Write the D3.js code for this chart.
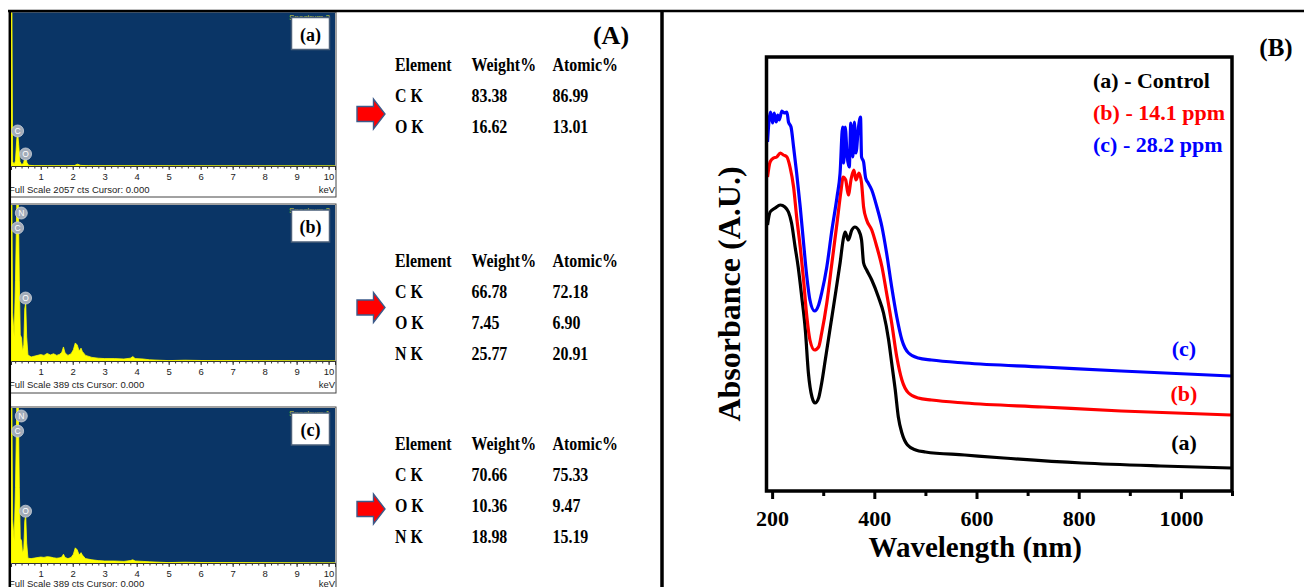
<!DOCTYPE html>
<html>
<head>
<meta charset="utf-8">
<script src="https://cdn.jsdelivr.net/npm/d3@7"></script>
<style>
  body { margin: 0; background: #fff; }
  svg { display: block; }
</style>
</head>
<body>
<div id="wrapper"></div>
<script>
// ---------- data ----------
// EDS spectra: [keV, counts]
const spectrumA = [
  [0.07, 2057], [0.10, 2057], [0.12, 60], [0.17, 20], [0.21, 70], [0.25, 360], [0.28, 440],
  [0.31, 290], [0.35, 60], [0.40, 20], [0.46, 35], [0.50, 105], [0.53, 120], [0.57, 45],
  [0.62, 10], [0.80, 4], [1.20, 3], [1.80, 3], [2.05, 6], [2.15, 24], [2.25, 8], [2.50, 3],
  [4.00, 2], [10.2, 0]
]
const spectrumB = [
  [0.07, 389], [0.10, 389], [0.12, 120], [0.17, 60], [0.21, 200], [0.25, 389], [0.30, 389],
  [0.33, 200], [0.36, 65], [0.40, 58], [0.43, 25], [0.47, 40], [0.50, 130], [0.53, 145],
  [0.56, 60], [0.60, 15], [0.70, 10], [0.85, 13], [1.00, 16], [1.10, 14], [1.20, 19], [1.30, 15],
  [1.40, 18], [1.50, 14], [1.60, 17], [1.66, 22], [1.71, 35], [1.76, 20], [1.85, 14], [1.95, 18],
  [2.02, 28], [2.08, 45], [2.14, 40], [2.20, 25], [2.26, 32], [2.30, 24], [2.40, 14], [2.60, 9],
  [2.80, 7], [3.00, 6], [3.30, 6], [3.60, 5], [3.80, 7], [3.88, 11], [3.95, 6], [4.20, 5],
  [4.40, 3], [4.70, 2], [5.00, 1], [5.50, 2], [6.20, 1], [7.00, 1], [10.2, 0]
]
const spectrumC = [
  [0.07, 389], [0.10, 389], [0.12, 110], [0.17, 55], [0.21, 190], [0.25, 389], [0.30, 389],
  [0.33, 190], [0.36, 62], [0.40, 56], [0.43, 25], [0.47, 35], [0.50, 105], [0.53, 120],
  [0.56, 50], [0.60, 12], [0.70, 11], [0.85, 13], [1.00, 15], [1.10, 14], [1.20, 16], [1.30, 15],
  [1.40, 13], [1.50, 12], [1.60, 13], [1.66, 15], [1.71, 22], [1.76, 14], [1.85, 11], [1.95, 14],
  [2.02, 22], [2.08, 38], [2.14, 33], [2.20, 20], [2.26, 26], [2.30, 20], [2.40, 11], [2.60, 8],
  [2.80, 6], [3.00, 5], [3.30, 5], [3.60, 4], [3.80, 6], [3.88, 8], [3.95, 5], [4.20, 4],
  [4.40, 3], [4.70, 2], [5.00, 1], [5.50, 2], [6.20, 1], [7.00, 1], [10.2, 0]
]
const fullScales = [2057, 389, 389]
const spectrumNames = ["(a)", "(b)", "(c)"]
const spectrumIds = ["Spectrum 3", "Spectrum 2", "Spectrum 1"]
// peak markers: [element, keV, counts where the marker sits]
const peaksA = [["C", 0.277, 469], ["O", 0.525, 161]]
const peaksB = [["N", 0.392, 369], ["C", 0.277, 332], ["O", 0.525, 157]]
const peaksC = [["N", 0.392, 369], ["C", 0.277, 331], ["O", 0.525, 130]]
const keVTicks = [1, 2, 3, 4, 5, 6, 7, 8, 9, 10]

// EDS quantification tables
const tableHeader = ["Element", "Weight%", "Atomic%"]
const tableA = [["C K", "83.38", "86.99"], ["O K", "16.62", "13.01"]]
const tableB = [["C K", "66.78", "72.18"], ["O K", "7.45", "6.90"], ["N K", "25.77", "20.91"]]
const tableC = [["C K", "70.66", "75.33"], ["O K", "10.36", "9.47"], ["N K", "18.98", "15.19"]]

// UV-vis spectra: [wavelength nm, absorbance a.u.]
const controlData = [
  [191, 2.68], [196, 2.81], [206, 2.85], [216, 2.88], [225, 2.86], [232, 2.81], [238, 2.70],
  [245, 2.46], [251, 2.26], [258, 1.96], [265, 1.63], [271, 1.20], [278, 0.96], [284, 0.90],
  [291, 0.95], [297, 1.10], [304, 1.33], [313, 1.63], [323, 1.96], [333, 2.30], [340, 2.56],
  [343, 2.61], [349, 2.53], [356, 2.63], [362, 2.66], [369, 2.63], [375, 2.53], [379, 2.30],
  [385, 2.23], [395, 2.13], [408, 1.96], [418, 1.80], [428, 1.53], [434, 1.30], [441, 1.03],
  [447, 0.76], [454, 0.60], [465, 0.48], [481, 0.43], [500, 0.41], [577, 0.38], [653, 0.35],
  [806, 0.30], [960, 0.27], [1098, 0.25]
]
const ppm14Data = [
  [191, 3.16], [196, 3.31], [203, 3.35], [209, 3.36], [216, 3.40], [222, 3.38], [229, 3.36],
  [235, 3.26], [242, 3.06], [248, 2.76], [255, 2.46], [261, 2.16], [268, 1.76], [274, 1.53],
  [283, 1.43], [291, 1.46], [297, 1.60], [307, 1.90], [317, 2.30], [327, 2.70], [335, 3.03],
  [339, 3.16], [344, 3.13], [349, 2.98], [355, 3.15], [360, 3.23], [364, 3.13], [370, 3.20],
  [375, 3.10], [379, 2.86], [385, 2.73], [395, 2.63], [405, 2.46], [415, 2.26], [424, 2.00],
  [434, 1.70], [444, 1.36], [454, 1.13], [467, 1.00], [486, 0.95], [512, 0.93], [577, 0.90],
  [730, 0.86], [883, 0.82], [1098, 0.78]
]
const ppm28Data = [
  [191, 3.51], [194, 3.73], [197, 3.81], [201, 3.70], [204, 3.80], [208, 3.71], [211, 3.78],
  [214, 3.73], [219, 3.82], [224, 3.80], [229, 3.81], [232, 3.71], [237, 3.66], [242, 3.46],
  [248, 3.20], [255, 2.86], [261, 2.53], [268, 2.16], [274, 1.93], [283, 1.82], [291, 1.88],
  [297, 2.00], [307, 2.26], [317, 2.63], [327, 2.96], [333, 3.20], [338, 3.66], [340, 3.30],
  [343, 3.66], [347, 3.36], [351, 3.26], [354, 3.70], [358, 3.36], [361, 3.71], [364, 3.40],
  [369, 3.66], [373, 3.76], [375, 3.36], [379, 3.31], [383, 3.15], [388, 3.10], [395, 3.03],
  [405, 2.86], [415, 2.66], [424, 2.40], [434, 2.06], [444, 1.76], [454, 1.53], [467, 1.40],
  [486, 1.35], [512, 1.33], [577, 1.30], [730, 1.26], [883, 1.22], [1098, 1.17]
]
const uvSeries = [controlData, ppm14Data, ppm28Data]
const uvColors = ["#000000", "#ff0000", "#0000ff"]
const legendLabels = ["(a) - Control", "(b) - 14.1 ppm", "(c) - 28.2 ppm"]
const curveLabels = ["(a)", "(b)", "(c)"]
const uvMajorTicks = [200, 400, 600, 800, 1000]
const uvMinorTicks = [300, 500, 700, 900, 1100]

// ---------- page ----------
const serif = "'Liberation Serif', 'Times New Roman', serif"
const sans = "'Liberation Sans', Arial, sans-serif"

const svg = d3.select("#wrapper")
  .append("svg")
    .attr("width", 1304)
    .attr("height", 587)

// ---------- EDS panels ----------
const edsPanels = [
  { top: 12.5, bottom: 166, data: spectrumA, peaks: peaksA, frameTop: 12, frameBottom: 197 },
  { top: 205, bottom: 361, data: spectrumB, peaks: peaksB, frameTop: 204, frameBottom: 393 },
  { top: 408, bottom: 563, data: spectrumC, peaks: peaksC, frameTop: 407, frameBottom: 590 },
]
const edsX = d3.scaleLinear().domain([0.07, 10.2]).range([11, 335])

edsPanels.forEach((p, i) => {
  const g = svg.append("g")
  const edsY = d3.scaleLinear().domain([0, fullScales[i]]).range([p.bottom, p.top])

  g.append("rect")
    .attr("x", 10).attr("y", p.frameTop)
    .attr("width", 326).attr("height", p.frameBottom - p.frameTop)
    .attr("fill", "#fff").attr("stroke", "#444").attr("stroke-width", 1)

  g.append("rect")
    .attr("x", 11).attr("y", p.top)
    .attr("width", 324).attr("height", p.bottom - p.top)
    .attr("fill", "#0a3566")

  const clipId = "edsclip" + i
  g.append("clipPath").attr("id", clipId)
    .append("rect")
      .attr("x", 11).attr("y", p.top)
      .attr("width", 324).attr("height", p.bottom - p.top)

  const area = d3.area()
    .x(d => edsX(d[0]))
    .y0(p.bottom)
    .y1(d => edsY(Math.min(d[1], fullScales[i])))

  g.append("path")
    .attr("clip-path", `url(#${clipId})`)
    .attr("d", area(p.data))
    .attr("fill", "#ffff00")
    .attr("stroke", "#ffff00")
    .attr("stroke-width", 0.8)

  // minor + major ticks
  const minorAxis = d3.axisBottom(edsX)
    .tickValues(d3.range(0.2, 10.21, 0.2))
    .tickSize(2.5).tickFormat("")
  g.append("g")
    .attr("transform", `translate(0,${p.bottom})`)
    .call(minorAxis)
    .call(a => a.select(".domain").remove())
    .call(a => a.selectAll("line").attr("stroke", "#333"))

  const majorAxis = d3.axisBottom(edsX)
    .tickValues(keVTicks).tickSize(4).tickPadding(3.5)
  g.append("g")
    .attr("transform", `translate(0,${p.bottom})`)
    .call(majorAxis)
    .call(a => a.select(".domain").attr("stroke", "#333"))
    .call(a => a.selectAll("line").attr("stroke", "#333"))
    .call(a => a.selectAll("text")
      .attr("font-family", sans).attr("font-size", 9.5).attr("fill", "#222"))

  const fsY = Math.min(p.bottom + 27, 586.5)
  g.append("text")
    .attr("x", 9).attr("y", fsY)
    .attr("font-family", sans).attr("font-size", 9.5).attr("fill", "#222")
    .text(`Full Scale ${fullScales[i]} cts Cursor: 0.000`)
  g.append("text")
    .attr("x", 335).attr("y", fsY)
    .attr("text-anchor", "end")
    .attr("font-family", sans).attr("font-size", 9.5).attr("fill", "#222")
    .text("keV")

  // peak markers
  p.peaks.forEach(pk => {
    const cx = edsX(pk[1]), cy = edsY(pk[2])
    g.append("circle")
      .attr("cx", cx).attr("cy", cy).attr("r", 6)
      .attr("fill", "#a3acb9").attr("stroke", "#cdd3db").attr("stroke-width", 0.8)
    g.append("text")
      .attr("x", cx).attr("y", cy + 3)
      .attr("text-anchor", "middle")
      .attr("font-family", sans).attr("font-size", 8.5).attr("fill", "#fff")
      .text(pk[0])
  })

  // spectrum name + label box
  const boxY = p.top + 5
  g.append("text")
    .attr("x", 289).attr("y", boxY + 2.5)
    .attr("font-family", sans).attr("font-size", 8).attr("fill", "#c9cf3c")
    .text(spectrumIds[i])
  g.append("rect")
    .attr("x", 291.5).attr("y", boxY)
    .attr("width", 38).attr("height", 32)
    .attr("fill", "#fff").attr("stroke", "#4a5f7a").attr("stroke-width", 1.5)
  g.append("text")
    .attr("x", 310.5).attr("y", boxY + 23)
    .attr("text-anchor", "middle")
    .attr("font-family", serif).attr("font-weight", "bold").attr("font-size", 18)
    .text(spectrumNames[i])
})

// ---------- tables ----------
const tables = [
  { rows: tableA, headerY: 71, arrowY: 114 },
  { rows: tableB, headerY: 267, arrowY: 307.5 },
  { rows: tableC, headerY: 449.5, arrowY: 509 },
]
const colX = [395, 471.5, 552.5]

function condensedText(g, x, y, str) {
  g.append("text")
    .attr("transform", `translate(${x},${y}) scale(0.885,1)`)
    .attr("font-family", serif).attr("font-weight", "bold").attr("font-size", 18)
    .attr("fill", "#000")
    .text(str)
}

tables.forEach(t => {
  const g = svg.append("g")
  tableHeader.forEach((h, j) => condensedText(g, colX[j], t.headerY, h))
  t.rows.forEach((r, k) => {
    r.forEach((c, j) => condensedText(g, colX[j], t.headerY + 31 + 31 * k, c))
  })
  const ay = t.arrowY
  const arrow = d3.path()
  arrow.moveTo(357, ay - 7.5)
  arrow.lineTo(373.5, ay - 7.5)
  arrow.lineTo(373.5, ay - 15)
  arrow.lineTo(385, ay)
  arrow.lineTo(373.5, ay + 15)
  arrow.lineTo(373.5, ay + 7.5)
  arrow.lineTo(357, ay + 7.5)
  arrow.closePath()
  g.append("path")
    .attr("d", arrow.toString())
    .attr("fill", "#ff0000")
    .attr("stroke", "#3b5a8a")
    .attr("stroke-width", 1.4)
})

svg.append("text")
  .attr("x", 611).attr("y", 44)
  .attr("text-anchor", "middle")
  .attr("font-family", serif).attr("font-weight", "bold").attr("font-size", 26)
  .text("(A)")

// ---------- UV-vis panel ----------
const frame = { left: 766.5, right: 1232, top: 57, bottom: 491 }
const xScale = d3.scaleLinear().domain([189, 1100]).range([frame.left, frame.right])
const yScale = d3.scaleLinear().domain([0, 4.36]).range([493, 57])

const uv = svg.append("g")
uv.append("clipPath").attr("id", "uvclip")
  .append("rect")
    .attr("x", frame.left).attr("y", frame.top)
    .attr("width", frame.right - frame.left).attr("height", frame.bottom - frame.top)

const lineGenerator = d3.line()
  .x(d => xScale(d[0]))
  .y(d => yScale(d[1]))
  .curve(d3.curveMonotoneX)

uvSeries.forEach((s, i) => {
  uv.append("path")
    .attr("clip-path", "url(#uvclip)")
    .attr("d", lineGenerator(s))
    .attr("fill", "none")
    .attr("stroke", uvColors[i])
    .attr("stroke-width", 3.2)
    .attr("stroke-linejoin", "round")
})

// axes
const xMinor = d3.axisBottom(xScale).tickValues(uvMinorTicks).tickSize(5).tickFormat("")
uv.append("g")
  .attr("transform", `translate(0,${frame.bottom})`)
  .call(xMinor)
  .call(a => a.select(".domain").remove())
  .call(a => a.selectAll("line").attr("stroke", "#000").attr("stroke-width", 3))

const xAxisGenerator = d3.axisBottom(xScale)
  .tickValues(uvMajorTicks).tickSize(8).tickPadding(11)
  .tickFormat(d3.format("d"))
uv.append("g")
  .attr("transform", `translate(0,${frame.bottom})`)
  .call(xAxisGenerator)
  .call(a => a.select(".domain").remove())
  .call(a => a.selectAll("line").attr("stroke", "#000").attr("stroke-width", 3))
  .call(a => a.selectAll("text")
    .attr("font-family", serif).attr("font-weight", "bold").attr("font-size", 22)
    .attr("fill", "#000"))

uv.append("rect")
  .attr("x", frame.left).attr("y", frame.top)
  .attr("width", frame.right - frame.left).attr("height", frame.bottom - frame.top)
  .attr("fill", "none").attr("stroke", "#000").attr("stroke-width", 3.5)

uv.append("text")
  .attr("x", (frame.left + frame.right) / 2 - 24).attr("y", 557)
  .attr("text-anchor", "middle")
  .attr("font-family", serif).attr("font-weight", "bold").attr("font-size", 29)
  .text("Wavelength (nm)")

uv.append("text")
  .attr("transform", `translate(740,294) rotate(-90)`)
  .attr("text-anchor", "middle")
  .attr("font-family", serif).attr("font-weight", "bold").attr("font-size", 32)
  .text("Absorbance (A.U.)")

// legend
const legendY = [87.5, 119.5, 151.5]
legendLabels.forEach((l, i) => {
  uv.append("text")
    .attr("x", 1093).attr("y", legendY[i])
    .attr("font-family", serif).attr("font-weight", "bold").attr("font-size", 22)
    .attr("fill", uvColors[i])
    .text(l)
})

// curve labels
const curveLabelY = [450, 401, 356]
curveLabels.forEach((l, i) => {
  uv.append("text")
    .attr("x", 1184).attr("y", curveLabelY[i])
    .attr("text-anchor", "middle")
    .attr("font-family", serif).attr("font-weight", "bold").attr("font-size", 22)
    .attr("fill", uvColors[i])
    .text(l)
})

svg.append("text")
  .attr("x", 1276).attr("y", 56)
  .attr("text-anchor", "middle")
  .attr("font-family", serif).attr("font-weight", "bold").attr("font-size", 25)
  .text("(B)")

// ---------- figure borders ----------
svg.append("line")
  .attr("x1", 8).attr("x2", 1304).attr("y1", 11).attr("y2", 11)
  .attr("stroke", "#000").attr("stroke-width", 2.5)
svg.append("line")
  .attr("x1", 9.8).attr("x2", 9.8).attr("y1", 10).attr("y2", 587)
  .attr("stroke", "#000").attr("stroke-width", 2.5)
svg.append("line")
  .attr("x1", 662).attr("x2", 662).attr("y1", 10).attr("y2", 587)
  .attr("stroke", "#000").attr("stroke-width", 3.5)
</script>
</body>
</html>
